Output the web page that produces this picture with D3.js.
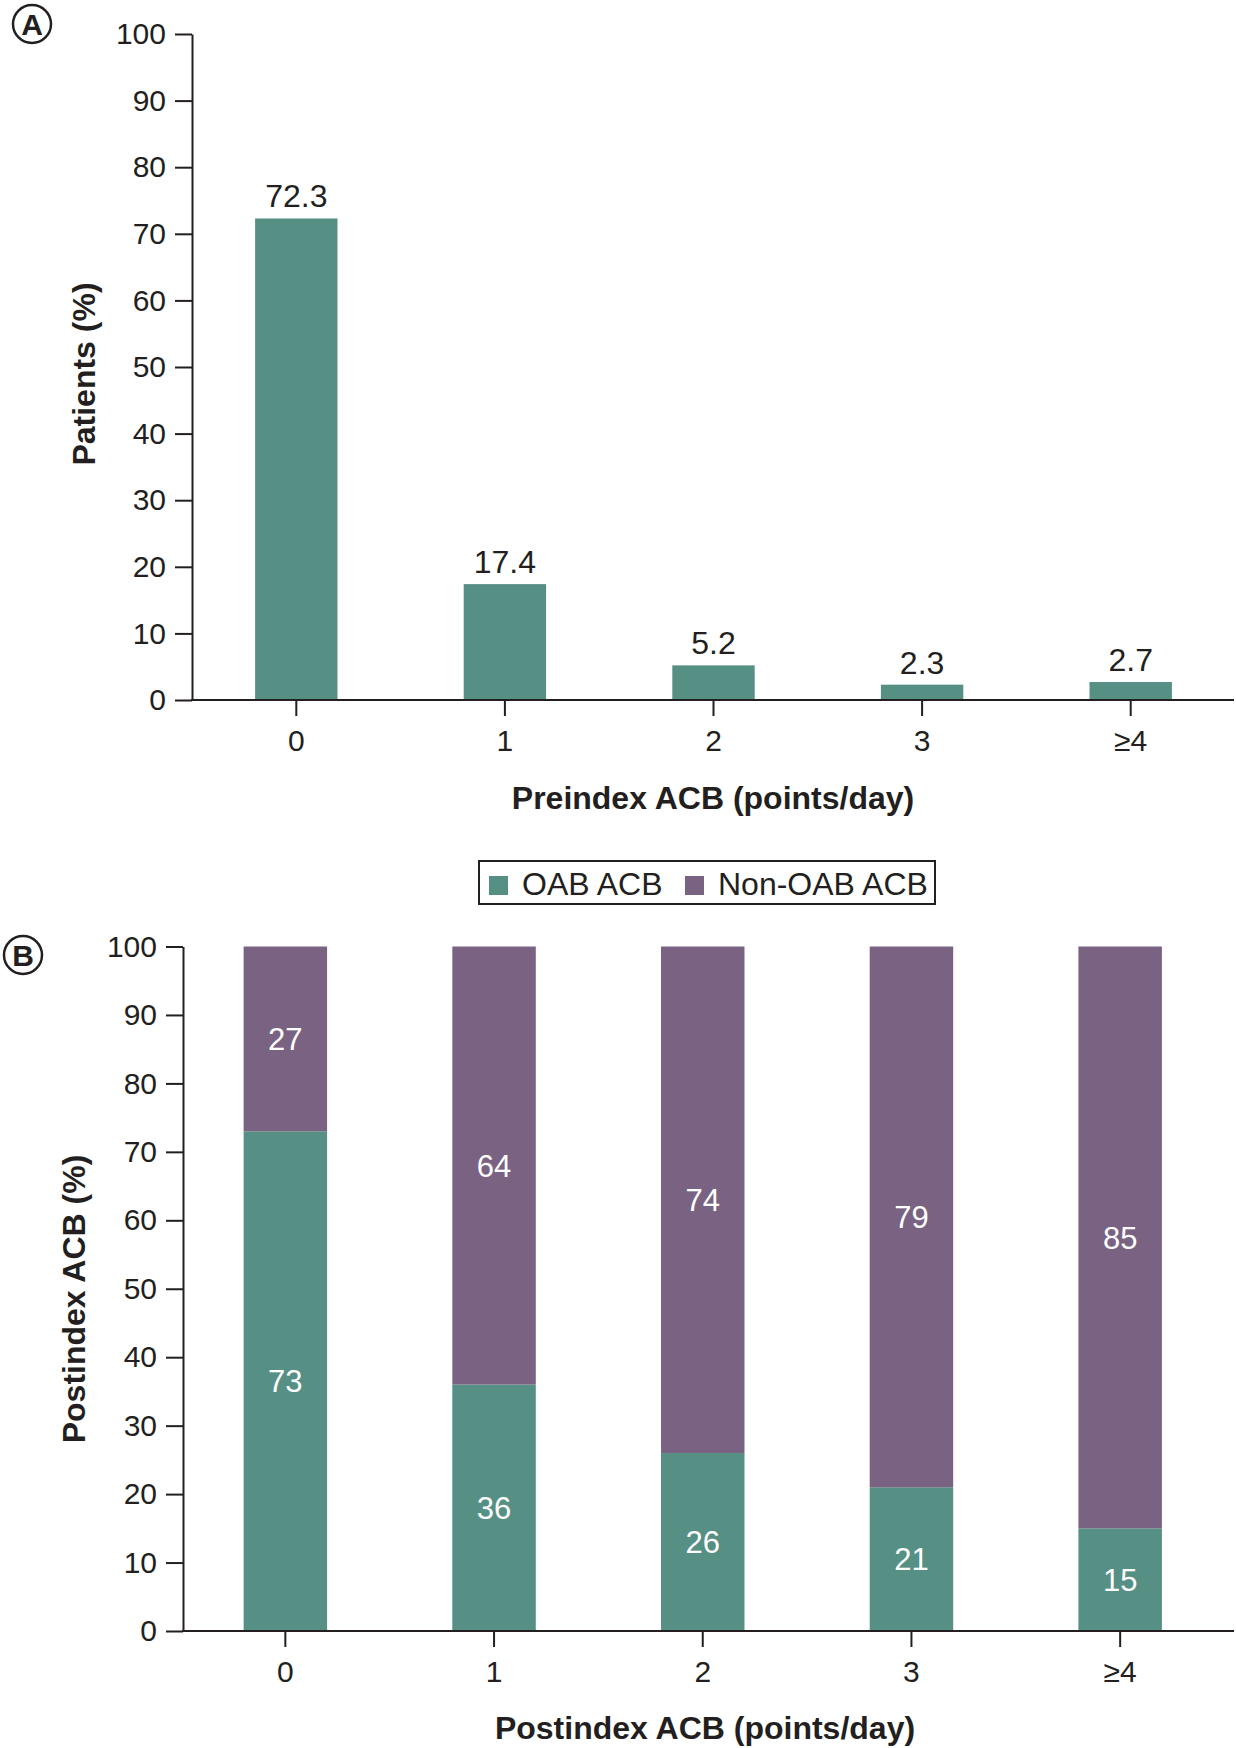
<!DOCTYPE html>
<html>
<head>
<meta charset="utf-8">
<script src="https://cdn.jsdelivr.net/npm/d3@7"></script>
<style>
  html, body { margin: 0; padding: 0; background: #fff; }
  svg { display: block; }
  text { font-family: "Liberation Sans", Arial, Helvetica, sans-serif; fill: #231f20; }
</style>
</head>
<body>
<svg id="chart" width="1236" height="1748"></svg>
<script>
// ---- Data ----
const categories = ["0", "1", "2", "3", "\u22654"];
const preindexValues = [72.3, 17.4, 5.2, 2.3, 2.7];
const oabValues = [73, 36, 26, 21, 15];
const nonOabValues = [27, 64, 74, 79, 85];
const yTicks = [0, 10, 20, 30, 40, 50, 60, 70, 80, 90, 100];
const seriesNames = ["OAB ACB", "Non-OAB ACB"];

// ---- Styles ----
const TEAL = "#568f84";
const PURPLE = "#7a6283";
const INK = "#231f20";

const svg = d3.select("#chart");

function styleAxis(g) {
  g.selectAll("path, line").attr("stroke", INK).attr("stroke-width", 2);
  g.selectAll("text").attr("font-size", 30).attr("fill", INK)
    .attr("font-family", '"Liberation Sans", Arial, sans-serif');
}

function panelLabel(cx, cy, letter) {
  svg.append("circle").attr("cx", cx).attr("cy", cy).attr("r", 19)
    .attr("fill", "none").attr("stroke", INK).attr("stroke-width", 2.5);
  svg.append("text").attr("x", cx).attr("y", cy + 10.5)
    .attr("text-anchor", "middle").attr("font-size", 30).attr("font-weight", "bold")
    .text(letter);
}

// ================= Panel A =================
{
  const x = d3.scaleBand().domain(categories).range([192, 1235])
    .paddingInner(0.605).paddingOuter(0.3025);
  const y = d3.scaleLinear().domain([0, 100]).range([700, 34]);

  svg.append("g").selectAll("rect").data(preindexValues).join("rect")
    .attr("x", (d, i) => x(categories[i]))
    .attr("width", x.bandwidth())
    .attr("y", d => y(d))
    .attr("height", d => y(0) - y(d))
    .attr("fill", TEAL);

  svg.append("g").selectAll("text").data(preindexValues).join("text")
    .attr("x", (d, i) => x(categories[i]) + x.bandwidth() / 2)
    .attr("y", d => y(d) - 11)
    .attr("text-anchor", "middle").attr("font-size", 32)
    .text(d => d.toFixed(1));

  const gy = svg.append("g").attr("transform", "translate(192,0)")
    .call(d3.axisLeft(y).tickValues(yTicks).tickSize(17).tickSizeOuter(0).tickPadding(9));
  styleAxis(gy);

  const gx = svg.append("g").attr("transform", `translate(0,${y(0)})`)
    .call(d3.axisBottom(x).tickSize(16).tickSizeOuter(0).tickPadding(14));
  gx.select(".domain").remove();
  styleAxis(gx);
  svg.append("line").attr("x1", 191).attr("x2", 1234).attr("y1", y(0)).attr("y2", y(0))
    .attr("stroke", INK).attr("stroke-width", 2);

  svg.append("text").attr("x", 713).attr("y", 809).attr("text-anchor", "middle")
    .attr("font-size", 32).attr("font-weight", "bold").text("Preindex ACB (points/day)");
  svg.append("text").attr("transform", "translate(95,374) rotate(-90)")
    .attr("text-anchor", "middle").attr("font-size", 32).attr("font-weight", "bold")
    .text("Patients (%)");

  panelLabel(32, 24, "A");
}

// ================= Legend =================
{
  const colors = [TEAL, PURPLE];
  svg.append("rect").attr("x", 479).attr("y", 861).attr("width", 456).attr("height", 43)
    .attr("fill", "#fff").attr("stroke", INK).attr("stroke-width", 2);
  const xs = [489, 685];
  seriesNames.forEach((name, i) => {
    svg.append("rect").attr("x", xs[i]).attr("y", 876).attr("width", 19).attr("height", 19)
      .attr("fill", colors[i]);
    svg.append("text").attr("x", xs[i] + 33).attr("y", 895).attr("font-size", 32).text(name);
  });
}

// ================= Panel B =================
{
  const x = d3.scaleBand().domain(categories).range([181, 1224.5])
    .paddingInner(0.6).paddingOuter(0.3);
  const y = d3.scaleLinear().domain([0, 100]).range([1631, 946.5]);

  const rows = categories.map((c, i) => ({ cat: c, oab: oabValues[i], non: nonOabValues[i] }));
  const stack = d3.stack().keys(["oab", "non"])(rows);
  const colors = { oab: TEAL, non: PURPLE };

  stack.forEach(layer => {
    svg.append("g").selectAll("rect").data(layer).join("rect")
      .attr("x", d => x(d.data.cat))
      .attr("width", x.bandwidth())
      .attr("y", d => y(d[1]))
      .attr("height", d => y(d[0]) - y(d[1]))
      .attr("fill", colors[layer.key]);
    svg.append("g").selectAll("text").data(layer).join("text")
      .attr("x", d => x(d.data.cat) + x.bandwidth() / 2)
      .attr("y", d => y((d[0] + d[1]) / 2))
      .attr("dy", "0.36em")
      .attr("text-anchor", "middle").attr("font-size", 31)
      .style("fill", "#fff")
      .text(d => d.data[layer.key]);
  });

  const gy = svg.append("g").attr("transform", "translate(183,0)")
    .call(d3.axisLeft(y).tickValues(yTicks).tickSize(17).tickSizeOuter(0).tickPadding(9));
  styleAxis(gy);

  const gx = svg.append("g").attr("transform", `translate(0,${y(0)})`)
    .call(d3.axisBottom(x).tickSize(16).tickSizeOuter(0).tickPadding(14));
  gx.select(".domain").remove();
  styleAxis(gx);
  svg.append("line").attr("x1", 182).attr("x2", 1234).attr("y1", y(0)).attr("y2", y(0))
    .attr("stroke", INK).attr("stroke-width", 2);

  svg.append("text").attr("x", 705).attr("y", 1739).attr("text-anchor", "middle")
    .attr("font-size", 32).attr("font-weight", "bold").text("Postindex ACB (points/day)");
  svg.append("text").attr("transform", "translate(85,1299) rotate(-90)")
    .attr("text-anchor", "middle").attr("font-size", 32).attr("font-weight", "bold")
    .text("Postindex ACB (%)");

  panelLabel(23, 955, "B");
}
</script>
</body>
</html>
